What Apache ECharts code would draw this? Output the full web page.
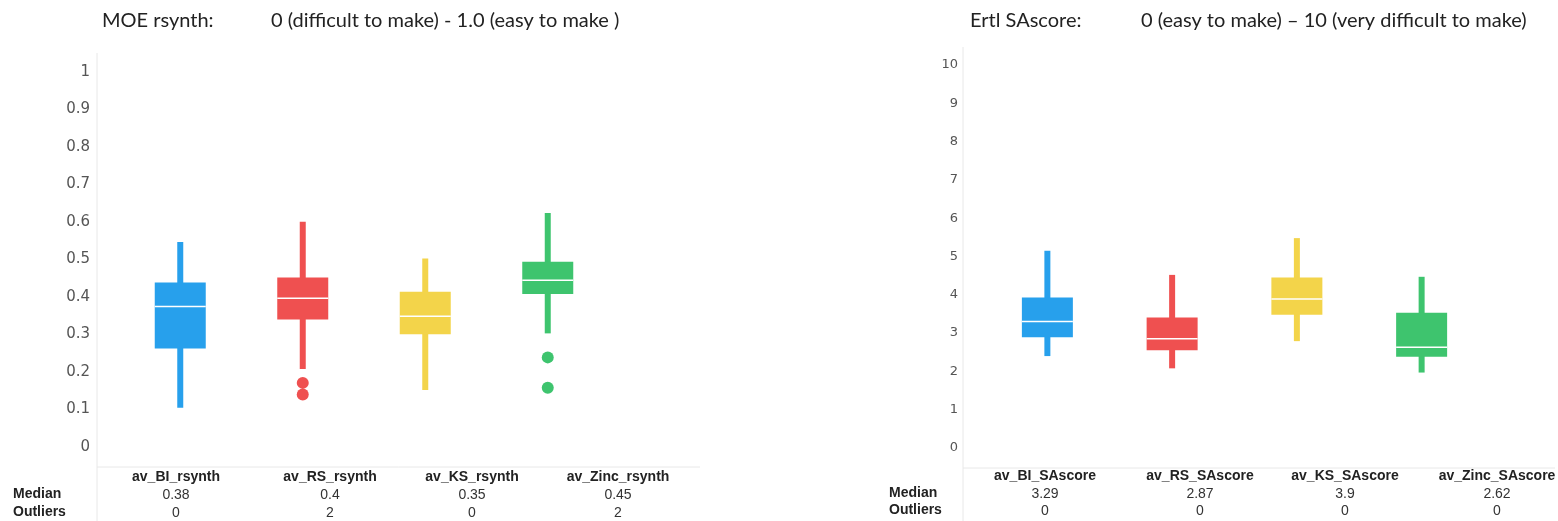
<!DOCTYPE html>
<html>
<head>
<meta charset="utf-8">
<script src="https://cdn.jsdelivr.net/npm/echarts@6/dist/echarts.min.js"></script>
<style>
html, body { margin: 0; padding: 0; background: #fff; }
#chart { width: 1558px; height: 521px; }
</style>
</head>
<body>
<div id="chart"></div>
<script>
// MOE rsynth (left panel)
var rsynthCats = ['av_BI_rsynth', 'av_RS_rsynth', 'av_KS_rsynth', 'av_Zinc_rsynth'];
var rsynthLow = [0.105, 0.208, 0.152, 0.303];
var rsynthQ1 = [0.263, 0.340, 0.301, 0.408];
var rsynthMedian = [0.375, 0.397, 0.349, 0.445];
var rsynthQ3 = [0.439, 0.452, 0.414, 0.494];
var rsynthHigh = [0.547, 0.601, 0.503, 0.624];
var rsynthOutliers = [[1, 0.171], [1, 0.140], [3, 0.239], [3, 0.158]];
var rsynthMedianText = ['0.38', '0.4', '0.35', '0.45'];
var rsynthOutlierCount = [0, 2, 0, 2];
var rsynthTicks = [0, 1, 0.1];

// Ertl SAscore (right panel)
var saCats = ['av_BI_SAscore', 'av_RS_SAscore', 'av_KS_SAscore', 'av_Zinc_SAscore'];
var saLow = [2.40, 2.08, 2.79, 1.97];
var saQ1 = [2.89, 2.55, 3.48, 2.38];
var saMedian = [3.30, 2.85, 3.89, 2.63];
var saQ3 = [3.93, 3.41, 4.45, 3.53];
var saHigh = [5.15, 4.52, 5.48, 4.47];
var saOutliers = [];
var saMedianText = ['3.29', '2.87', '3.9', '2.62'];
var saOutlierCount = [0, 0, 0, 0];
var saTicks = [0, 10, 1];

var palette = ['#27a0ec', '#ef5050', '#f3d44a', '#3ec46e'];

function boxRows(low, q1, med, q3, high) {
  return low.map(function (v, i) { return [i, v, q1[i], med[i], q3[i], high[i]]; });
}

function renderBox(params, api) {
  var i = api.value(0);
  var low = api.coord([i, api.value(1)]);
  var q1 = api.coord([i, api.value(2)]);
  var med = api.coord([i, api.value(3)]);
  var q3 = api.coord([i, api.value(4)]);
  var high = api.coord([i, api.value(5)]);
  var color = palette[i];
  var bw = 51, ww = 6;
  return {
    type: 'group',
    children: [
      { type: 'rect', shape: { x: low[0] - ww / 2, y: high[1], width: ww, height: low[1] - high[1] }, style: { fill: color } },
      { type: 'rect', shape: { x: q3[0] - bw / 2, y: q3[1], width: bw, height: q1[1] - q3[1] }, style: { fill: color } },
      { type: 'line', shape: { x1: med[0] - bw / 2, y1: med[1], x2: med[0] + bw / 2, y2: med[1] }, style: { stroke: '#fff', lineWidth: 1.5 } }
    ]
  };
}

// table text under each panel
function tableText(cats, medians, counts, labelX, colX, rowY) {
  var font = '"Liberation Sans", Arial, sans-serif';
  var items = [
    { type: 'text', left: labelX, top: rowY[1] - 8, style: { text: 'Median', font: 'bold 14px ' + font, fill: '#222' } },
    { type: 'text', left: labelX, top: rowY[2] - 8, style: { text: 'Outliers', font: 'bold 14px ' + font, fill: '#222' } }
  ];
  cats.forEach(function (c, i) {
    items.push({ type: 'text', x: colX[i], y: rowY[0], style: { text: c, font: 'bold 14px ' + font, fill: '#222', align: 'center', verticalAlign: 'middle' } });
    items.push({ type: 'text', x: colX[i], y: rowY[1], style: { text: medians[i], font: '14px ' + font, fill: '#333', align: 'center', verticalAlign: 'middle' } });
    items.push({ type: 'text', x: colX[i], y: rowY[2], style: { text: String(counts[i]), font: '14px ' + font, fill: '#333', align: 'center', verticalAlign: 'middle' } });
  });
  return items;
}

function frame(x, top, bottom, right) {
  var st = { stroke: '#e8e8e8', lineWidth: 1 };
  return [
    { type: 'line', shape: { x1: x, y1: top, x2: x, y2: 521 }, style: st },
    { type: 'line', shape: { x1: x, y1: bottom, x2: right, y2: bottom }, style: st }
  ];
}

var chart = echarts.init(document.getElementById('chart'));

var titleFont = 'Lato, "Open Sans", sans-serif';
var titleStyle = { fontFamily: titleFont, fontSize: 20, fontWeight: 'normal', color: '#222' };
var graphics = []
  .concat(frame(97, 53, 467, 700))
  .concat(frame(963, 47, 468, 1555))
  .concat(tableText(rsynthCats, rsynthMedianText, rsynthOutlierCount, 13, [176, 330, 472, 618], [477, 495, 513]))
  .concat(tableText(saCats, saMedianText, saOutlierCount, 889, [1045, 1200, 1345, 1497], [476, 494, 511]));

chart.setOption({
  animation: false,
  title: [
    { text: 'MOE rsynth:', left: 97, top: 6, textStyle: titleStyle },
    { text: '0 (difficult to make) - 1.0 (easy to make )', left: 266, top: 6, textStyle: titleStyle },
    { text: 'Ertl SAscore:', left: 965, top: 6, textStyle: titleStyle },
    { text: '0 (easy to make) \u2013 10 (very difficult to make)', left: 1136, top: 6, textStyle: titleStyle }
  ],
  grid: [
    { left: 119, width: 490, top: 72, height: 375 },
    { left: 985, width: 499, top: 65, height: 383 }
  ],
  xAxis: [
    { type: 'category', gridIndex: 0, data: rsynthCats, boundaryGap: true, show: false },
    { type: 'category', gridIndex: 1, data: saCats, boundaryGap: true, show: false }
  ],
  yAxis: [
    {
      type: 'value', gridIndex: 0, min: rsynthTicks[0], max: rsynthTicks[1], interval: rsynthTicks[2],
      axisLine: { show: false }, axisTick: { show: false }, splitLine: { show: false },
      axisLabel: { margin: 29, fontSize: 15, color: '#555', fontFamily: '"DejaVu Sans", sans-serif',
        formatter: function (v) { return String(+v.toFixed(1)); } }
    },
    {
      type: 'value', gridIndex: 1, min: saTicks[0], max: saTicks[1], interval: saTicks[2],
      axisLine: { show: false }, axisTick: { show: false }, splitLine: { show: false },
      axisLabel: { margin: 27, fontSize: 13, color: '#555', fontFamily: '"DejaVu Sans", sans-serif' }
    }
  ],
  series: [
    {
      type: 'custom', xAxisIndex: 0, yAxisIndex: 0, renderItem: renderBox,
      encode: { x: 0, y: [1, 2, 3, 4, 5] },
      data: boxRows(rsynthLow, rsynthQ1, rsynthMedian, rsynthQ3, rsynthHigh)
    },
    {
      type: 'scatter', xAxisIndex: 0, yAxisIndex: 0, symbolSize: 12,
      itemStyle: { opacity: 1, color: function (p) { return palette[p.value[0]]; } },
      data: rsynthOutliers
    },
    {
      type: 'custom', xAxisIndex: 1, yAxisIndex: 1, renderItem: renderBox,
      encode: { x: 0, y: [1, 2, 3, 4, 5] },
      data: boxRows(saLow, saQ1, saMedian, saQ3, saHigh)
    },
    {
      type: 'scatter', xAxisIndex: 1, yAxisIndex: 1, symbolSize: 12,
      itemStyle: { opacity: 1, color: function (p) { return palette[p.value[0]]; } },
      data: saOutliers
    }
  ],
  graphic: graphics
});
</script>
</body>
</html>
